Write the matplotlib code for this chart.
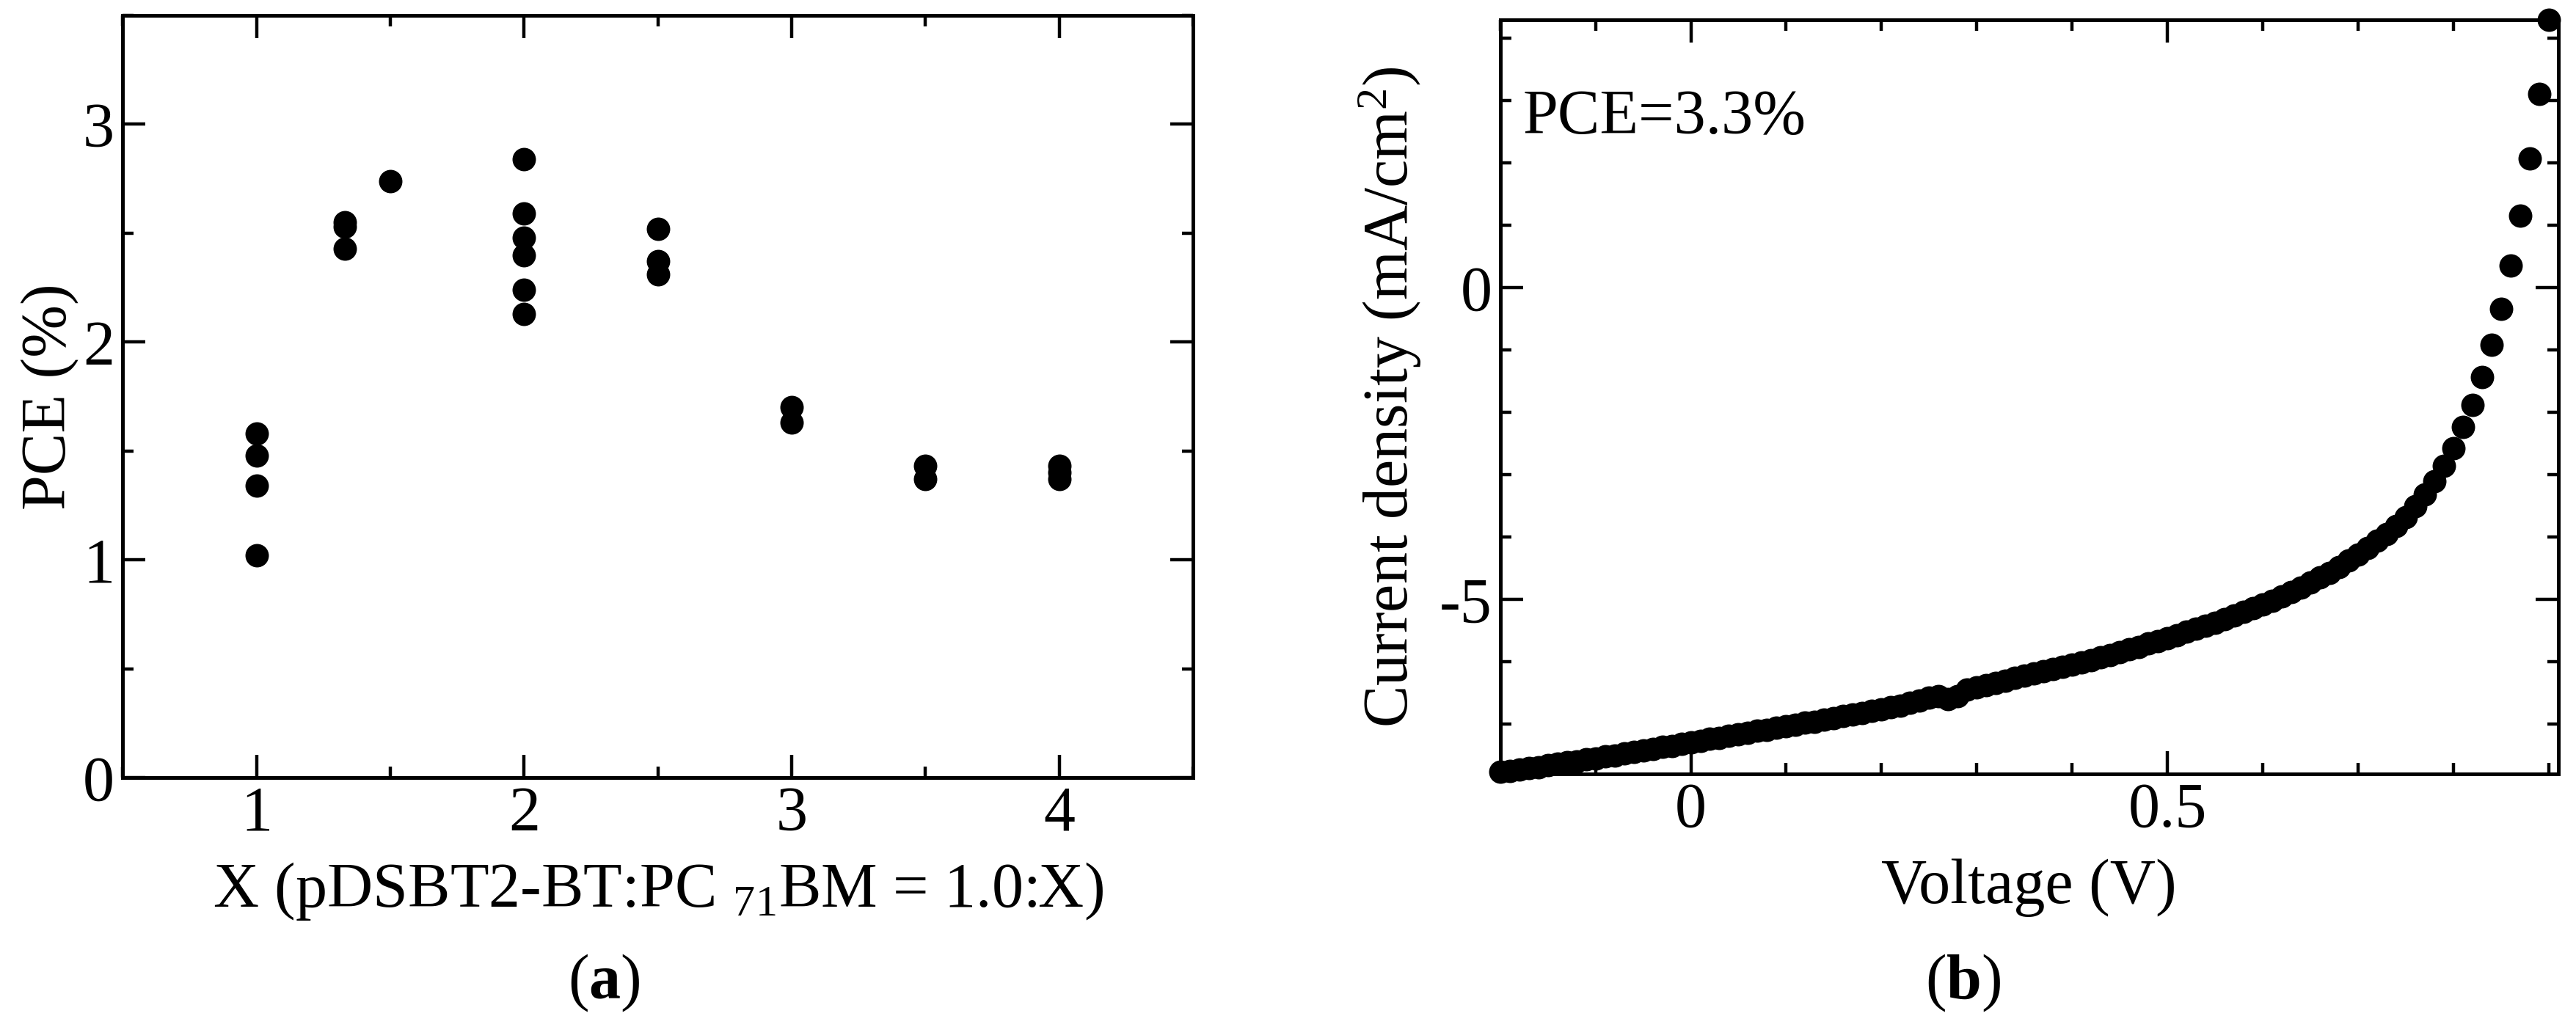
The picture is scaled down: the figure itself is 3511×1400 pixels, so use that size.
import matplotlib
matplotlib.use('Agg')
import matplotlib.pyplot as plt
from matplotlib.ticker import MultipleLocator, FuncFormatter

plt.rcParams['font.family'] = ['Liberation Serif', 'DejaVu Serif']
plt.rcParams['mathtext.fontset'] = 'custom'
plt.rcParams['mathtext.rm'] = 'Liberation Serif'
plt.rcParams['mathtext.it'] = 'Liberation Serif:italic'
plt.rcParams['mathtext.bf'] = 'Liberation Serif:bold'
plt.rcParams['mathtext.default'] = 'rm'
plt.rcParams['axes.unicode_minus'] = False

# (a) PCE vs blend ratio
ratio = [1.0, 1.0, 1.0, 1.0,
         1.33, 1.33, 1.33,
         1.5,
         2.0, 2.0, 2.0, 2.0, 2.0, 2.0,
         2.5, 2.5, 2.5,
         3.0, 3.0,
         3.5, 3.5,
         4.0, 4.0, 4.0]
pce = [1.58, 1.48, 1.34, 1.02,
       2.55, 2.53, 2.43,
       2.74,
       2.84, 2.59, 2.48, 2.40, 2.24, 2.13,
       2.52, 2.37, 2.31,
       1.70, 1.63,
       1.43, 1.37,
       1.43, 1.40, 1.37]

# (b) J-V curve
voltage = [-0.20, -0.19, -0.18, -0.17, -0.16, -0.15, -0.14, -0.13, -0.12, -0.11,
           -0.10, -0.09, -0.08, -0.07, -0.06, -0.05, -0.04, -0.03, -0.02, -0.01,
           0.00, 0.01, 0.02, 0.03, 0.04, 0.05, 0.06, 0.07, 0.08, 0.09,
           0.10, 0.11, 0.12, 0.13, 0.14, 0.15, 0.16, 0.17, 0.18, 0.19,
           0.20, 0.21, 0.22, 0.23, 0.24, 0.25, 0.26, 0.27, 0.28, 0.29,
           0.30, 0.31, 0.32, 0.33, 0.34, 0.35, 0.36, 0.37, 0.38, 0.39,
           0.40, 0.41, 0.42, 0.43, 0.44, 0.45, 0.46, 0.47, 0.48, 0.49,
           0.50, 0.51, 0.52, 0.53, 0.54, 0.55, 0.56, 0.57, 0.58, 0.59,
           0.60, 0.61, 0.62, 0.63, 0.64, 0.65, 0.66, 0.67, 0.68, 0.69,
           0.70, 0.71, 0.72, 0.73, 0.74, 0.75, 0.76, 0.77, 0.78, 0.79,
           0.80, 0.81, 0.82, 0.83, 0.84, 0.85, 0.86, 0.87, 0.88, 0.89,
           0.90]
current = [-7.76, -7.75, -7.73, -7.71, -7.69, -7.66, -7.64, -7.61, -7.60, -7.57,
           -7.55, -7.52, -7.50, -7.47, -7.45, -7.42, -7.40, -7.37, -7.35, -7.32,
           -7.29, -7.27, -7.24, -7.22, -7.19, -7.16, -7.14, -7.11, -7.09, -7.06,
           -7.04, -7.01, -6.98, -6.96, -6.93, -6.90, -6.87, -6.85, -6.82, -6.79,
           -6.76, -6.73, -6.70, -6.66, -6.62, -6.58, -6.55, -6.60, -6.55, -6.45,
           -6.41, -6.38, -6.34, -6.30, -6.26, -6.22, -6.19, -6.15, -6.12, -6.08,
           -6.05, -6.01, -5.97, -5.93, -5.89, -5.85, -5.80, -5.76, -5.71, -5.67,
           -5.62, -5.57, -5.52, -5.47, -5.42, -5.37, -5.32, -5.26, -5.20, -5.14,
           -5.08, -5.02, -4.95, -4.88, -4.81, -4.73, -4.65, -4.57, -4.48, -4.38,
           -4.28, -4.17, -4.06, -3.95, -3.82, -3.68, -3.51, -3.32, -3.10, -2.86,
           -2.57, -2.23, -1.88, -1.43, -0.92, -0.34, 0.36, 1.16, 2.07, 3.11,
           4.30]

FS = 31
fmt = FuncFormatter(lambda v, p: '%g' % v)


def style(ax):
    for s in ax.spines.values():
        s.set_linewidth(1.8)
    ax.tick_params(which='both', direction='in', top=True, right=True,
                   labelsize=FS, width=1.6)
    ax.tick_params(which='major', length=11)
    ax.tick_params(which='minor', length=5.5)
    ax.tick_params(axis='x', pad=4)
    ax.tick_params(axis='y', pad=4)
    ax.xaxis.set_major_formatter(fmt)
    ax.yaxis.set_major_formatter(fmt)


fig = plt.figure(figsize=(17.56, 7.0), dpi=200)
ax1 = fig.add_axes([0.0476, 0.2429, 0.4154, 0.7421])
ax2 = fig.add_axes([0.5822, 0.2464, 0.4106, 0.7345])

ax1.plot(ratio, pce, 'o', color='k', ms=11.5, mew=0, clip_on=False)
ax1.set_xlim(0.5, 4.5)
ax1.set_ylim(0, 3.5)
ax1.xaxis.set_major_locator(MultipleLocator(1))
ax1.xaxis.set_minor_locator(MultipleLocator(0.5))
ax1.yaxis.set_major_locator(MultipleLocator(1))
ax1.yaxis.set_minor_locator(MultipleLocator(0.5))
style(ax1)
ax1.set_xlabel('X (pDSBT2-BT:PC $_{71}$BM = 1.0:X)', fontsize=FS, labelpad=8)
ax1.set_ylabel('PCE (%)', fontsize=FS, labelpad=2)

ax2.plot(voltage, current, 'o', color='k', ms=11.5, mew=0, clip_on=False)
ax2.set_xlim(-0.2, 0.91)
ax2.set_ylim(-7.8, 4.3)
ax2.xaxis.set_major_locator(MultipleLocator(0.5))
ax2.xaxis.set_minor_locator(MultipleLocator(0.1))
ax2.yaxis.set_major_locator(MultipleLocator(5))
ax2.yaxis.set_minor_locator(MultipleLocator(1))
style(ax2)
ax2.set_xlabel('Voltage (V)', fontsize=FS, labelpad=9)
ax2.set_ylabel('Current density (mA/cm$^{2}$)', fontsize=FS, labelpad=8)
ax2.text(-0.176, 2.47, 'PCE=3.3%', fontsize=FS, va='baseline', ha='left')

fig.text(823 / 3512, 1 - 1340 / 1400, r'($\mathbf{a}$)', fontsize=FS,
         ha='center', va='center')
fig.text(2676 / 3512, 1 - 1340 / 1400, r'($\mathbf{b}$)', fontsize=FS,
         ha='center', va='center')

fig.savefig('out.png', dpi=200)
